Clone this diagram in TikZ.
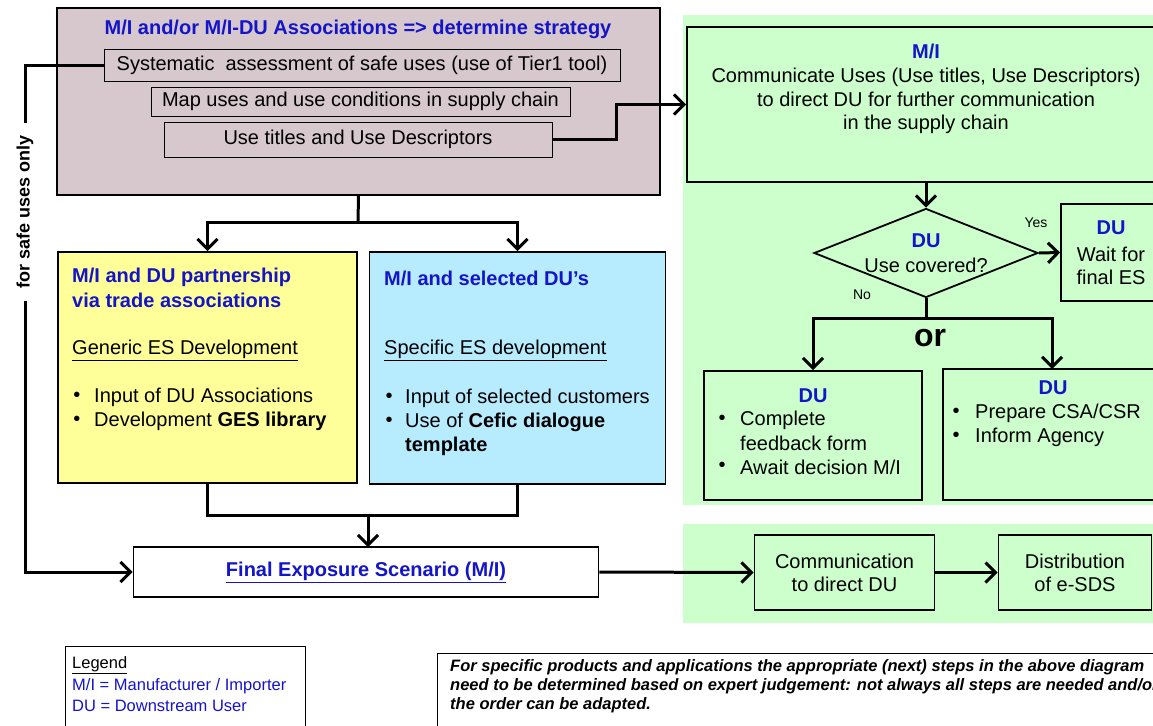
\documentclass[tikz,border=0pt]{standalone}
\usepackage{fontspec}
\setmainfont{Liberation Sans}
\usetikzlibrary{arrows.meta,shapes.geometric}
\definecolor{mauve}{RGB}{214,200,204}
\definecolor{lgreen}{RGB}{204,255,204}
\definecolor{lyellow}{RGB}{255,255,153}
\definecolor{lcyan}{RGB}{183,236,255}
\definecolor{tblue}{RGB}{20,20,200}
\tikzset{
  box/.style={draw=black, line width=1.8pt, inner sep=0pt},
  subbox/.style={draw=black, line width=1pt, inner sep=0pt, fill=mauve, font=\fontsize{20}{23}\selectfont},
  conn/.style={line width=3pt, line join=miter},
  arr/.style={conn, -{Straight Barb[length=10pt,width=20pt]}},
  btxt/.style={text=tblue, font=\bfseries\fontsize{20}{23}\selectfont, inner sep=0pt},
  ntxt/.style={font=\fontsize{20}{23}\selectfont, inner sep=0pt},
  ltxt/.style={font=\fontsize{20}{23}\selectfont, inner sep=0pt, anchor=west},
  lbtxt/.style={text=tblue, font=\bfseries\fontsize{20}{23}\selectfont, inner sep=0pt, anchor=west},
  smalltxt/.style={inner sep=0pt, anchor=west, font=\fontsize{16.5}{16.5}\selectfont},
  notetxt/.style={inner sep=0pt, anchor=west, font=\bfseries\itshape\fontsize{16.5}{16.5}\selectfont},
}
\begin{document}
\begin{tikzpicture}[x=1pt,y=-1pt]
\useasboundingbox (0,0) rectangle (1153,725);
\clip (0,0) rectangle (1153,725);
% green backgrounds
\fill[lgreen] (683,15) rectangle (1160,505);
\fill[lgreen] (683,524) rectangle (1160,623);

% top mauve box
\node[box, fill=mauve, minimum width=603pt, minimum height=187pt] (mauvebox) at (358.5,101.5) {};
\node[btxt] (mtitle) at (358,29) {M/I and/or M/I-DU Associations => determine strategy};
\node[subbox, minimum width=516pt, minimum height=31pt] (sub1) at (362,65.5) {Systematic\ \ assessment of safe uses (use of Tier1 tool)};
\node[subbox, minimum width=419pt, minimum height=29pt] (sub2) at (360.5,101.5) {Map uses and use conditions in supply chain};
\node[subbox, minimum width=388pt, minimum height=35pt] (sub3) at (358,139.5) {Use titles and Use Descriptors};

% M/I communicate box
\node[box, minimum width=478pt, minimum height=155pt] (mibox) at (926,104.5) {};
\node[ntxt, align=center, font=\fontsize{20}{23.8}\selectfont] (mitext) at (926,89)
  {\textcolor{tblue}{\bfseries M/I}\\Communicate Uses (Use titles, Use Descriptors)\\to direct DU for further communication\\in the supply chain};

% diamond
\node[draw=black, line width=1.8pt, diamond, minimum width=224pt, minimum height=89pt, inner sep=0pt] (dia) at (926,253) {};
\node[btxt] (diadu) at (926,241) {DU};
\node[ntxt] (diatxt) at (926,265) {Use covered?};
\node[inner sep=0pt, font=\fontsize{14}{14}\selectfont] (yes) at (1036,223) {Yes};
\node[inner sep=0pt, font=\fontsize{14}{14}\selectfont] (no) at (862,295) {No};

% wait box
\node[box, minimum width=105pt, minimum height=97pt] (wait) at (1113.5,252.5) {};
\node[btxt] (waitdu) at (1111,228) {DU};
\node[ntxt] (wait1) at (1111,254) {Wait for};
\node[ntxt] (wait2) at (1111,277) {final ES};

% or
\node[inner sep=0pt, font=\bfseries\fontsize{32}{32}\selectfont] (ortxt) at (930,338) {or};

% DU left
\node[box, minimum width=218pt, minimum height=129pt] (duleft) at (813,435.5) {};
\node[btxt] (dulefthd) at (813,396) {DU};
\node[ntxt] (b1) at (722,420) {\textbullet};
\node[ltxt] (dl1) at (740,420) {Complete};
\node[ltxt] (dl2) at (740,443) {feedback form};
\node[ntxt] (b2) at (722,467) {\textbullet};
\node[ltxt] (dl3) at (740,467) {Await decision M/I};

% DU right
\node[box, minimum width=222pt, minimum height=131pt] (duright) at (1054,434.5) {};
\node[btxt] (durighthd) at (1053,388) {DU};
\node[ntxt] (b3) at (956,413) {\textbullet};
\node[ltxt] (dr1) at (975,413) {Prepare CSA/CSR};
\node[ntxt] (b4) at (956,437) {\textbullet};
\node[ltxt] (dr2) at (975,437) {Inform Agency};

% yellow box
\node[box, fill=lyellow, minimum width=299pt, minimum height=231pt] (yellow) at (207.5,367.5) {};
\node[lbtxt] (y1) at (72,277) {M/I and DU partnership};
\node[lbtxt] (y2) at (72,300) {via trade associations};
\node[ltxt] (y3) at (72,350) {\underline{Generic ES Development}};
\node[ntxt] (b5) at (77,397) {\textbullet};
\node[ltxt] (y4) at (94,397) {Input of DU Associations};
\node[ntxt] (b6) at (77,421) {\textbullet};
\node[ltxt] (y5) at (94,421) {Development \textbf{GES library}};

% cyan box
\node[box, fill=lcyan, minimum width=296pt, minimum height=232pt] (cyan) at (517.5,368) {};
\node[lbtxt] (c1) at (384,278) {M/I and selected DU’s};
\node[ltxt] (c2) at (384,350) {\underline{Specific ES development}};
\node[ntxt] (b7) at (389,398) {\textbullet};
\node[ltxt] (c3) at (405,398) {Input of selected customers};
\node[ntxt] (b8) at (389,422) {\textbullet};
\node[ltxt] (c4) at (405,422) {Use of \textbf{Cefic dialogue}};
\node[ltxt] (c5) at (405,446) {\textbf{template}};

% final ES
\node[box, fill=white, minimum width=465pt, minimum height=50pt] (final) at (366,572) {};
\node[btxt] (finaltxt) at (366,572) {\underline{Final Exposure Scenario (M/I)}};

% communication and distribution
\node[box, minimum width=180pt, minimum height=75pt, align=center, font=\fontsize{20}{23}\selectfont] (comm) at (844.5,572.5) {Communication\\to direct DU};
\node[box, minimum width=153pt, minimum height=75pt, align=center, font=\fontsize{20}{23}\selectfont] (dist) at (1075,572.5) {Distribution\\of e-SDS};

% legend and note
\node[draw=black, line width=0.8pt, minimum width=240pt, minimum height=100pt, inner sep=0pt] (legend) at (185,696) {};
\node[smalltxt] (lg1) at (72,665) {\underline{Legend}};
\node[smalltxt, text=tblue] (lg2) at (72,686) {M/I = Manufacturer / Importer};
\node[smalltxt, text=tblue] (lg3) at (72,706) {DU = Downstream User};
\node[draw=black, line width=0.8pt, minimum width=740pt, minimum height=100pt, inner sep=0pt] (note) at (807,703) {};
\node[notetxt] (n1) at (450,667) {For specific products and applications the appropriate (next) steps in the above diagram};
\node[notetxt] (n2) at (450,686) {need to be determined based on expert judgement: not always all steps are needed and/or};
\node[notetxt] (n3) at (450,705) {the order can be adapted.};

% coordinates
\coordinate (j1) at (616,104.5);
\coordinate (sp) at (358,222);
\coordinate (jb) at (368,515);
\coordinate (finalin) at (368,547);
\coordinate (loopt) at (25,65.5);
\coordinate (loopb) at (25,572);
\coordinate (dj) at (926,318);
\coordinate (durin) at (1052,369);

% connectors
\draw[arr] (sub3.east) -| (j1) -- (mibox.west);
\draw[conn] (mauvebox.south) -- (sp);
\draw[arr] (sp) -| (yellow.north);
\draw[arr] (sp) -| (cyan.north);
\draw[conn] (yellow.south) |- (jb) -| (cyan.south);
\draw[arr] (jb) -- (finalin);
\draw[arr] (sub1.west) -- (loopt) -- (loopb) -- (final.west);
\node[fill=white, rotate=90, inner xsep=12pt, inner ysep=3pt, font=\bfseries\fontsize{18}{18}\selectfont] (safe) at (25,212) {for safe uses only};
\draw[arr] (mibox.south) -- (dia.north);
\draw[arr] (dia.east) -- (wait.west);
\draw[conn] (dia.south) -- (dj);
\draw[arr] (dj) -| (duleft.north);
\draw[arr] (dj) -| (durin);
\draw[arr] (final.east) -- (comm.west);
\draw[arr] (comm.east) -- (dist.west);
\end{tikzpicture}
\end{document}
